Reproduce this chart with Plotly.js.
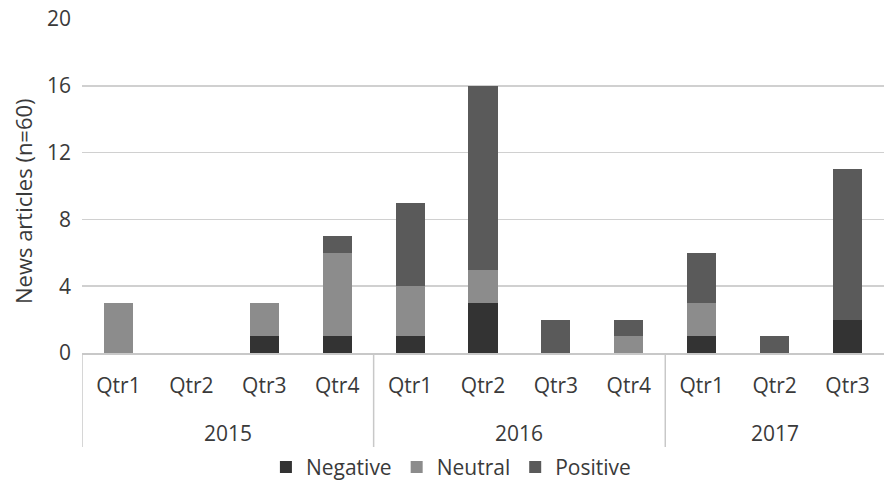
<!DOCTYPE html>
<html>
<head>
<meta charset="utf-8">
<script src="https://cdn.plot.ly/plotly-3.0.1.min.js"></script>
<style>html,body{margin:0;padding:0;background:#fff;}#chart{width:884px;height:483px;}</style>
</head>
<body>
<div id="chart"></div>
<script>
const years = ["2015","2015","2015","2015","2016","2016","2016","2016","2017","2017","2017"];
const quarters = ["Qtr1","Qtr2","Qtr3","Qtr4","Qtr1","Qtr2","Qtr3","Qtr4","Qtr1","Qtr2","Qtr3"];
const negative = [0,0,1,1,1,3,0,0,1,0,2];
const neutral  = [3,0,2,5,3,2,0,1,2,0,0];
const positive = [0,0,0,1,5,11,2,1,3,1,9];
const yTicks = [0,4,8,12,16,20];
const yTitle = "News articles (n=60)";

const idx = quarters.map((q,i)=>i);
const font = {family: "Open Sans, Lato, sans-serif", color: "#3a3a3a"};
const F = s => Object.assign({size:s}, font);

function tr(name, vals, color){
  return {type:"bar", name:name, x:idx, y:vals,
    marker:{color:color, line:{width:0}}, hoverinfo:"y+name"};
}
const data = [
  tr("Negative", negative, "#333333"),
  tr("Neutral", neutral, "#8c8c8c"),
  tr("Positive", positive, "#5a5a5a")
];

// group dividers and year labels derived from the years array
const groups = [];
years.forEach((y,i)=>{
  if(!groups.length || groups[groups.length-1].name!==y) groups.push({name:y, start:i, end:i});
  else groups[groups.length-1].end = i;
});
const plotH = 483-19-130;
const divBottom = -94/plotH;
const shapes = groups.map(g=>({type:"line", xref:"x", yref:"paper", x0:g.start-0.5, x1:g.start-0.5,
  y0:0, y1:divBottom, line:{color:"#c8c8c8", width:1.5}}));
const annotations = groups.map(g=>({xref:"x", yref:"paper", x:(g.start+g.end)/2, y:0, yshift:-80,
  yanchor:"middle", showarrow:false, text:g.name, font:F(21)}));
annotations.push({xref:"paper", yref:"paper", x:0, xshift:-59, y:0.455, xanchor:"center", yanchor:"middle",
  textangle:-90, showarrow:false, text:yTitle, font:F(22)});

const layout = {
  width:884, height:483,
  margin:{l:82, r:0, t:19, b:130},
  barmode:"stack", bargap:0.6,
  paper_bgcolor:"#fff", plot_bgcolor:"#fff",
  font:F(21),
  showlegend:true,
  legend:{orientation:"h", x:0.46, xanchor:"center", yref:"container", y:0.075, yanchor:"top",
    font:F(21), tracegroupgap:0, traceorder:"normal"},
  shapes:shapes, annotations:annotations,
  xaxis:{range:[-0.5, quarters.length-0.5], tickvals:idx, ticktext:quarters,
    showline:true, linecolor:"#c8c8c8", linewidth:1.5, ticks:"", ticklabelstandoff:13,
    tickfont:F(21), showgrid:false, zeroline:false},
  yaxis:{range:[0,20], tickvals:yTicks, ticktext:yTicks.map(String), showgrid:true,
    gridcolor:"#d0d0d0", gridwidth:1.5, zeroline:false, showline:false, ticks:"",
    ticklabelstandoff:10, tickfont:F(21)}
};
Plotly.newPlot("chart", data, layout, {displayModeBar:false, staticPlot:true});
</script>
</body>
</html>
